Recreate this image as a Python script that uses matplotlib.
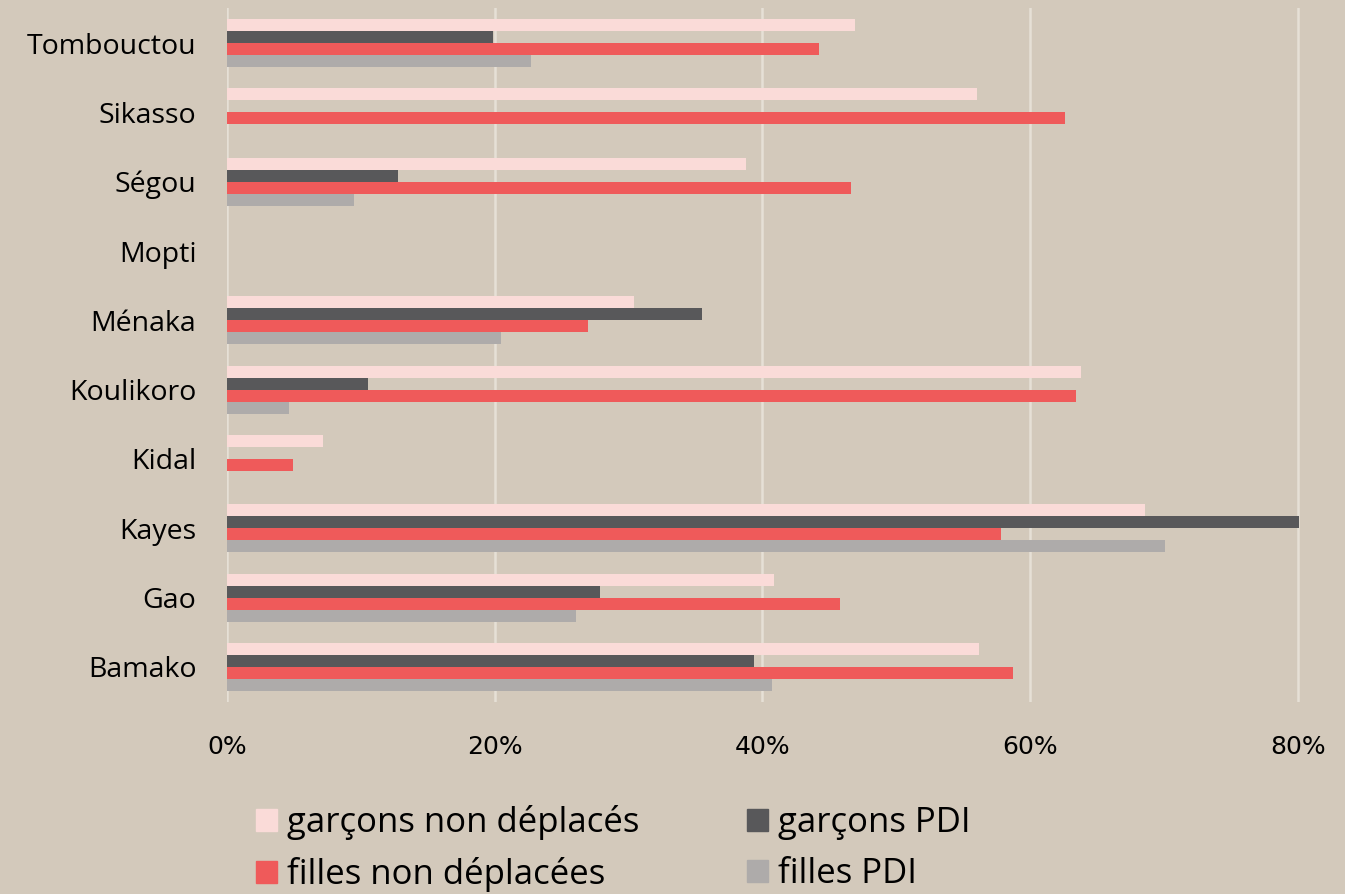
import numpy as np
import matplotlib.pyplot as plt
from matplotlib.patches import Patch

# regions, listed bottom to top as on the chart
regions = ["Bamako", "Gao", "Kayes", "Kidal", "Koulikoro", "Ménaka",
           "Mopti", "Ségou", "Sikasso", "Tombouctou"]

# shares in percent (0 = no bar)
garcons_non_depl = [56.2, 40.9, 68.6, 7.2, 63.8, 30.4, 0, 38.8, 56.0, 46.9]
garcons_pdi = [39.4, 27.9, 80.1, 0, 10.5, 35.5, 0, 12.8, 0, 19.9]
filles_non_depl = [58.7, 45.8, 57.8, 4.9, 63.4, 27.0, 0, 46.6, 62.6, 44.2]
filles_pdi = [40.7, 26.1, 70.1, 0, 4.6, 20.5, 0, 9.5, 0, 22.7]

xticks = [0, 20, 40, 60, 80]

bg = "#D3C9BB"
c_pink = "#FADBD8"
c_dark = "#58585A"
c_red = "#EF5A5A"
c_gray = "#AEABAA"

fig = plt.figure(figsize=(13.45, 8.94), dpi=100, facecolor=bg)
ax = fig.add_axes([0.1688, 0.2152, 0.806, 0.7754])
ax.set_facecolor(bg)

y = np.arange(len(regions))
h = 0.173
ax.barh(y + 1.5 * h, garcons_non_depl, height=h, color=c_pink, zorder=3)
ax.barh(y + 0.5 * h, garcons_pdi, height=h, color=c_dark, zorder=3)
ax.barh(y - 0.5 * h, filles_non_depl, height=h, color=c_red, zorder=3)
ax.barh(y - 1.5 * h, filles_pdi, height=h, color=c_gray, zorder=3)

ax.set_xlim(0, 81)
ax.set_ylim(-0.5, len(regions) - 0.5)
ax.set_xticks(xticks)
ax.set_xticklabels([f"{t}%" for t in xticks], fontsize=18,
                   family=["Liberation Sans Narrow", "DejaVu Sans"])
ax.set_yticks(y)
ax.set_yticklabels(regions, fontsize=20.5, family="Open Sans")
ax.tick_params(axis="y", length=0, pad=22)
ax.tick_params(axis="x", length=0, pad=24)
ax.grid(axis="x", color="#E6E0D6", linewidth=1.8, zorder=0)
for s in ax.spines.values():
    s.set_visible(False)

handles = [Patch(color=c_pink), Patch(color=c_red),
           Patch(color=c_dark), Patch(color=c_gray)]
labels = ["garçons non déplacés", "filles non déplacées",
          "garçons PDI", "filles PDI"]
fig.legend(handles, labels, ncol=2, loc="lower left",
           bbox_to_anchor=(0.167, -0.033), frameon=False,
           prop={"family": "Open Sans", "size": 25},
           handlelength=0.6, handleheight=0.6, handletextpad=0.3,
           columnspacing=3.1, labelspacing=0.5)

fig.savefig("out.png", dpi=100, facecolor=bg)
